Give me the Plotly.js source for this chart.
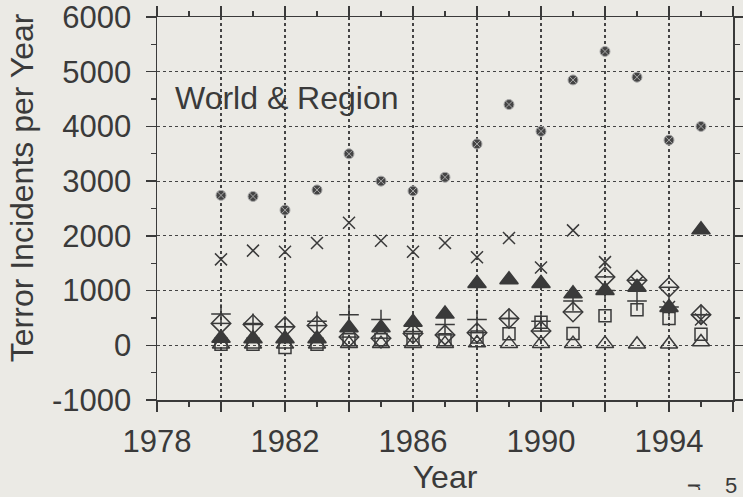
<!DOCTYPE html>
<html>
<head>
<meta charset="utf-8">
<script src="https://cdn.plot.ly/plotly-3.0.1.min.js"></script>
<style>
html,body{margin:0;padding:0;background:#ebeae5;}
#chart{width:743px;height:497px;}
</style>
</head>
<body>
<div id="chart"></div>
<script>
// ---- data ----
const years = [1980,1981,1982,1983,1984,1985,1986,1987,1988,1989,1990,1991,1992,1993,1994,1995];
const world = [2740,2720,2470,2840,3500,3000,2820,3070,3680,4400,3910,4850,5370,4900,3750,4000];
const crossSeries = [1570,1730,1710,1870,2240,1910,1710,1870,1610,1960,1420,2100,1520,1150,700,470];
const filledTriangle = [130,120,120,120,320,320,420,570,1130,1200,1130,940,1000,1060,690,2110];
const diamondSeries = [400,380,340,360,150,130,215,190,230,490,260,610,1250,1190,1060,560];
const plusSeries = [570,400,340,440,560,470,250,380,470,490,440,810,1000,810,700,560];
const squareSeries = [20,20,-40,20,100,100,100,100,150,210,420,215,540,650,490,200];
const openTriangle = [20,20,20,20,30,30,30,30,40,30,30,30,30,20,20,60];

const xTickVals = [1978,1980,1982,1984,1986,1988,1990,1992,1994,1996];
const xTickText = ['1978','','1982','','1986','','1990','','1994',''];
const yTickVals = [-1000,0,1000,2000,3000,4000,5000,6000];
const yTickText = ['-1000','0','1000','2000','3000','4000','5000','6000'];

const ink = '#3a3a3a';
const paper = '#ebeae5';
const FONT = 'Liberation Sans, Arial, sans-serif';

function tr(y, symbol, size, opts) {
  opts = opts || {};
  return {
    x: years, y: y, type: 'scatter', mode: 'markers', showlegend: false, hoverinfo: 'x+y',
    marker: Object.assign({symbol: symbol, size: size, color: ink,
      line: {color: ink, width: 1.5}}, opts.marker || {})
  };
}

const data = [
  tr(openTriangle, 'triangle-up-open', 15),
  tr(squareSeries, 'square-open', 12),
  tr(plusSeries, 'cross-thin-open', 14),
  tr(diamondSeries, 'diamond-open', 15),
  tr(diamondSeries, 'line-ew-open', 13),
  tr(crossSeries, 'x-thin-open', 12),
  tr(filledTriangle, 'triangle-up', 16),
  tr(world, 'circle-x', 10, {marker: {color: '#444', line: {color: '#a8a8a8', width: 1}}})
];

const axisCommon = {
  showline: true, linecolor: ink, linewidth: 1.5, mirror: 'ticks',
  ticks: 'outside', tickcolor: ink, tickwidth: 1.3, ticklen: 10,
  showgrid: true, gridcolor: '#444', griddash: 'dot', gridwidth: 1.2,
  zeroline: false, ticklabeloverflow: 'allow',
  tickfont: {family: FONT, size: 31, color: ink}
};

const layout = {
  width: 743, height: 497,
  paper_bgcolor: paper, plot_bgcolor: paper,
  margin: {l: 157, r: 10, t: 17, b: 97},
  xaxis: Object.assign({}, axisCommon, {
    range: [1978, 1996], tickmode: 'array', tickvals: xTickVals, ticktext: xTickText,
    ticklabelstandoff: 3,
    minor: {dtick: 1, tick0: 1978, ticks: 'outside', ticklen: 5, tickcolor: ink, tickwidth: 1.2, showgrid: false},
    title: {text: 'Year', standoff: 4, font: {family: FONT, size: 32, color: ink}}
  }),
  yaxis: Object.assign({}, axisCommon, {
    range: [-1000, 6000], tickmode: 'array', tickvals: yTickVals, ticktext: yTickText,
    ticklabelstandoff: 8,
    minor: {dtick: 500, tick0: 0, ticks: 'outside', ticklen: 5, tickcolor: ink, tickwidth: 1.2, showgrid: false}
  }),
  annotations: [
    {text: 'Terror Incidents per Year', xref: 'paper', yref: 'paper', x: -0.234, y: 0.5535,
     textangle: -90, xanchor: 'center', yanchor: 'middle', showarrow: false,
     font: {family: FONT, size: 32, color: ink}},
    {text: 'World &amp; Region', xref: 'paper', yref: 'paper', x: 0.027, y: 0.789,
     xanchor: 'left', yanchor: 'middle', showarrow: false,
     font: {family: FONT, size: 32, color: ink}},
    {text: 'r', xref: 'paper', yref: 'paper', x: 0.936, y: -0.225, textangle: 90,
     xanchor: 'center', yanchor: 'middle', showarrow: false,
     font: {family: FONT, size: 22, color: ink}},
    {text: '5', xref: 'paper', yref: 'paper', x: 0.982, y: -0.222,
     xanchor: 'left', yanchor: 'middle', showarrow: false,
     font: {family: FONT, size: 22, color: ink}}
  ]
};

Plotly.newPlot('chart', data, layout, {displayModeBar: false, staticPlot: true});
</script>
</body>
</html>
